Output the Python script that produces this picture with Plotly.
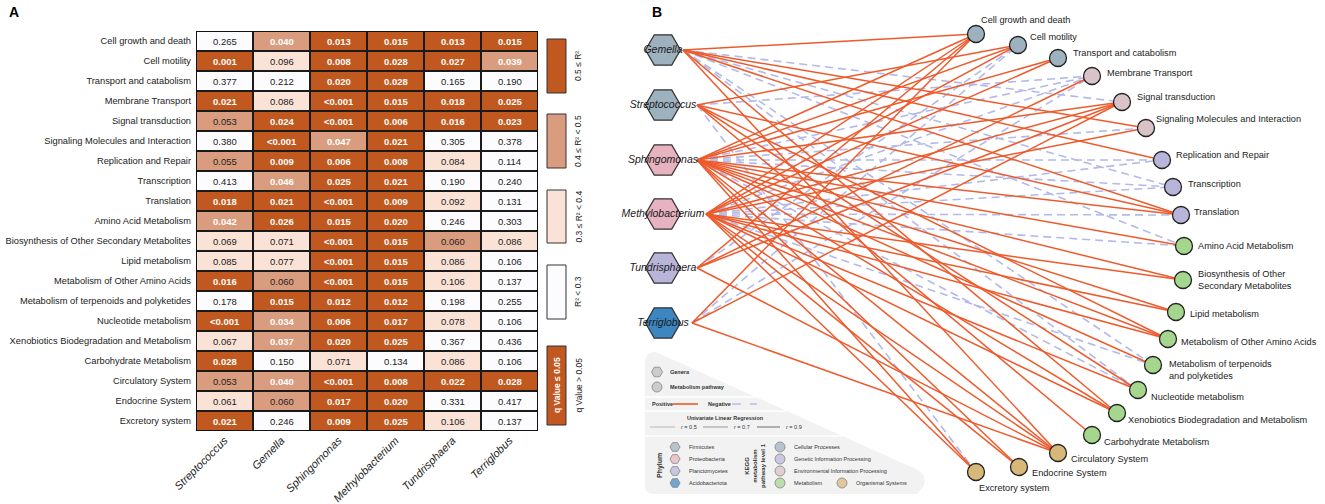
import plotly.graph_objects as go

W, H = 1325, 504

# ---------------- DATA ----------------
pathways = ["Cell growth and death", "Cell motility", "Transport and catabolism",
            "Membrane Transport", "Signal transduction", "Signaling Molecules and Interaction",
            "Replication and Repair", "Transcription", "Translation", "Amino Acid Metabolism",
            "Biosynthesis of Other Secondary Metabolites", "Lipid metabolism",
            "Metabolism of Other Amino Acids", "Metabolism of terpenoids and polyketides",
            "Nucleotide metabolism", "Xenobiotics Biodegradation and Metabolism",
            "Carbohydrate Metabolism", "Circulatory System", "Endocrine System", "Excretory system"]

heat_genera = ["Streptococcus", "Gemella", "Sphingomonas", "Methylobacterium",
               "Tundrisphaera", "Terriglobus"]

q_labels = [
    ["0.265", "0.040", "0.013", "0.015", "0.013", "0.015"],
    ["0.001", "0.096", "0.008", "0.028", "0.027", "0.039"],
    ["0.377", "0.212", "0.020", "0.028", "0.165", "0.190"],
    ["0.021", "0.086", "<0.001", "0.015", "0.018", "0.025"],
    ["0.053", "0.024", "<0.001", "0.006", "0.016", "0.023"],
    ["0.380", "<0.001", "0.047", "0.021", "0.305", "0.378"],
    ["0.055", "0.009", "0.006", "0.008", "0.084", "0.114"],
    ["0.413", "0.046", "0.025", "0.021", "0.190", "0.240"],
    ["0.018", "0.021", "<0.001", "0.009", "0.092", "0.131"],
    ["0.042", "0.026", "0.015", "0.020", "0.246", "0.303"],
    ["0.069", "0.071", "<0.001", "0.015", "0.060", "0.086"],
    ["0.085", "0.077", "<0.001", "0.015", "0.086", "0.106"],
    ["0.016", "0.060", "<0.001", "0.015", "0.106", "0.137"],
    ["0.178", "0.015", "0.012", "0.012", "0.198", "0.255"],
    ["<0.001", "0.034", "0.006", "0.017", "0.078", "0.106"],
    ["0.067", "0.037", "0.020", "0.025", "0.367", "0.436"],
    ["0.028", "0.150", "0.071", "0.134", "0.086", "0.106"],
    ["0.053", "0.040", "<0.001", "0.008", "0.022", "0.028"],
    ["0.061", "0.060", "0.017", "0.020", "0.331", "0.417"],
    ["0.021", "0.246", "0.009", "0.025", "0.106", "0.137"],
]

# R2 class: 0 = R2<0.3, 1 = 0.3-0.4, 2 = 0.4-0.5, 3 = >=0.5
r2_class = [
    [0, 2, 3, 3, 3, 3],
    [3, 1, 3, 3, 3, 2],
    [0, 0, 3, 3, 0, 0],
    [3, 1, 3, 3, 3, 3],
    [2, 3, 3, 3, 3, 3],
    [0, 3, 2, 3, 0, 0],
    [2, 3, 3, 3, 1, 0],
    [0, 2, 3, 3, 0, 0],
    [3, 3, 3, 3, 1, 0],
    [2, 3, 3, 3, 0, 0],
    [1, 1, 3, 3, 2, 1],
    [1, 1, 3, 3, 1, 0],
    [3, 2, 3, 3, 1, 0],
    [0, 3, 3, 3, 0, 0],
    [3, 2, 3, 3, 1, 0],
    [1, 2, 3, 3, 0, 0],
    [3, 0, 1, 0, 1, 0],
    [2, 2, 3, 3, 3, 3],
    [1, 2, 3, 3, 0, 0],
    [3, 0, 3, 3, 1, 0],
]
r2_legend = ["R² < 0.3", "0.3 ≤ R² < 0.4", "0.4 ≤ R² < 0.5", "0.5 ≤ R²"]

# network
net_genera = ["Gemella", "Streptococcus", "Sphingomonas", "Methylobacterium",
              "Tundrisphaera", "Terriglobus"]
net_phylum = ["Firmicutes", "Firmicutes", "Proteobacteria", "Proteobacteria",
              "Planctomycetes", "Acidobacteriota"]
pathway_level1 = (["Cellular Processes"] * 3 + ["Environmental Information Processing"] * 3 +
                  ["Genetic Information Processing"] * 3 + ["Metabolism"] * 8 +
                  ["Organismal Systems"] * 3)
# edge sign per genus over pathways (1 positive, -1 negative, 0 none)
edge_sign = {
    "Gemella":          [1, 0, 0, 0, -1, 1, 1, -1, 1, -1, 0, 0, 0, -1, -1, 1, 0, 1, 0, 0],
    "Streptococcus":    [0, 1, 0, -1, 0, 0, 0, 0, 1, 0, 0, 0, 1, 0, 1, 0, 1, 0, 0, -1],
    "Sphingomonas":     [1, 1, 1, -1, 1, -1, -1, -1, 1, 1, 1, 1, 1, 1, -1, 1, 0, 1, 1, 1],
    "Methylobacterium": [1, 1, 1, -1, 1, 1, -1, -1, -1, -1, 1, 1, 1, -1, 1, 1, 0, 1, 1, 1],
    "Tundrisphaera":    [1, -1, 0, 1, 1, 0, 0, 0, 0, 0, 0, 0, 0, 0, 0, 0, 0, 1, 0, 0],
    "Terriglobus":      [1, -1, 0, -1, 1, 0, 0, 0, 0, 0, 0, 0, 0, 0, 0, 0, 0, 1, 0, 0],
}

# ---------------- STYLE / LAYOUT ----------------
heat_cols = ["#FCFCFE", "#FAE2D6", "#DA9C7E", "#C0581F"]
phylum_col = {"Firmicutes": "#9EB1BF", "Proteobacteria": "#E7B3C0",
              "Planctomycetes": "#B9B4DA", "Acidobacteriota": "#3D86C0"}
level1_col = {"Cellular Processes": "#9EB1BF", "Genetic Information Processing": "#B8B5DA",
              "Environmental Information Processing": "#D9C3C9", "Metabolism": "#A5D68D",
              "Organismal Systems": "#D8B878"}
POS_COL = "#EE5A2C"
NEG_COL = "#B3BAE8"
FONT = "Liberation Sans, Arial, sans-serif"

# genus node layout (pixel coords in panel B)
genus_xy = [(663, 50), (663, 105), (663, 160), (663, 214), (663, 268), (663, 323)]
genus_edge_x = [683, 697, 697, 706, 697, 692]
# pathway node layout
path_xy = [(976, 34), (1018, 45), (1058, 58), (1092, 76), (1122, 102), (1146, 128),
           (1162, 160), (1173, 187), (1181, 215), (1184, 246), (1183, 280), (1176, 312),
           (1168, 339), (1153, 365), (1138, 390), (1117, 413), (1092, 435), (1058, 453),
           (1019, 467), (976, 472)]
path_label_xy = [(979, 20), (1028, 37), (1071, 53), (1105, 73), (1135, 97), (1154, 119),
                 (1174, 155), (1186, 184), (1192, 212), (1196, 246), (1196, 280), (1188, 314),
                 (1179, 342), (1167, 370), (1149, 397), (1126, 420), (1102, 442), (1069, 459),
                 (1030, 473), (977, 488)]
path_label_text = {"Biosynthesis of Other Secondary Metabolites":
                   "Biosynthesis of Other<br>Secondary Metabolites",
                   "Metabolism of terpenoids and polyketides":
                   "Metabolism of terpenoids<br>and polyketides"}


def px(x):
    return x / W


def py(y):
    return 1 - y / H


fig = go.Figure()

# ---------------- PANEL A: heatmap ----------------
nrow, ncol = len(pathways), len(heat_genera)
cs = []
for i, c in enumerate(heat_cols):
    cs.append([i / 4, c])
    cs.append([(i + 1) / 4, c])

fig.add_trace(go.Heatmap(
    z=r2_class, x=list(range(ncol)), y=list(range(nrow)),
    colorscale=cs, zmin=-0.5, zmax=3.5, showscale=False,
    xgap=2, ygap=2, hoverinfo="skip", xaxis="x", yaxis="y"))

annotations = []


def is_sig(s):
    return s.startswith("<") or float(s) <= 0.05


for r in range(nrow):
    for c in range(ncol):
        s = q_labels[r][c]
        sig = is_sig(s)
        annotations.append(dict(
            x=c, y=r, xref="x", yref="y", showarrow=False,
            text=("<b>%s</b>" % s.replace("<", "&lt;")) if sig else s.replace("<", "&lt;"),
            font=dict(family=FONT, size=9.5, color="white" if sig else "#222222")))

shapes = []
# black grid background and outer frame
shapes.append(dict(type="rect", xref="x", yref="y", x0=-0.5, x1=ncol - 0.5,
                   y0=-0.5, y1=nrow - 0.5, fillcolor="#1a1a1a", line=dict(width=0),
                   layer="below"))
shapes.append(dict(type="rect", xref="x", yref="y", x0=-0.5, x1=ncol - 0.5,
                   y0=-0.5, y1=nrow - 0.5, fillcolor="rgba(0,0,0,0)",
                   line=dict(color="#111111", width=2)))


def pann(x, y, text, size, color, angle=0):
    return dict(x=px(x), y=py(y), xref="paper", yref="paper", text=text, textangle=angle,
                showarrow=False, xanchor="center", yanchor="middle",
                font=dict(family=FONT, size=size, color=color))


# R2 legend boxes
leg_boxes = [(265, 319), (190, 243), (114, 168), (39, 93)]
for k, (y0, y1) in enumerate(leg_boxes):
    shapes.append(dict(type="rect", xref="paper", yref="paper", x0=px(547), x1=px(566),
                       y0=py(y1), y1=py(y0), fillcolor=heat_cols[k],
                       line=dict(color="#333333", width=1)))
    annotations.append(pann(578, (y0 + y1) / 2, r2_legend[k], 8.5, "#222222", -90))
shapes.append(dict(type="rect", xref="paper", yref="paper", x0=px(547), x1=px(566),
                   y0=py(425), y1=py(346), fillcolor=heat_cols[3],
                   line=dict(color="#333333", width=1)))
annotations.append(pann(556.5, 385.5, "<b>q Value ≤ 0.05</b>", 8.5, "white", -90))
annotations.append(pann(578, 385.5, "q Value > 0.05", 8.5, "#222222", -90))

# panel letters
annotations.append(pann(14, 12, "<b>A</b>", 14, "black"))
annotations.append(pann(657, 12, "<b>B</b>", 14, "black"))

# ---------------- PANEL B: network ----------------
# legend background
shapes.append(dict(type="path", xref="x2", yref="y2",
                   path="M 645,362 Q 645,352 656,352 L 918,470 Q 932,480 917,494 "
                        "L 654,494 Q 645,494 645,486 Z",
                   fillcolor="#F2F2F2", line=dict(width=0), layer="below"))
for yy in (397, 411, 436):
    xe = 656 + (yy - 352) * (262 / 118)
    shapes.append(dict(type="line", xref="x2", yref="y2", x0=645, x1=xe, y0=yy, y1=yy,
                       line=dict(color="white", width=1.5), layer="below"))

# edges
for sign, col, dash in ((-1, NEG_COL, "8px,5px"), (1, POS_COL, "solid")):
    xs, ys = [], []
    for gi, g in enumerate(net_genera):
        for pi, p in enumerate(pathways):
            if edge_sign[g][pi] == sign:
                xs += [genus_edge_x[gi], path_xy[pi][0], None]
                ys += [genus_xy[gi][1], path_xy[pi][1], None]
    fig.add_trace(go.Scatter(x=xs, y=ys, mode="lines", xaxis="x2", yaxis="y2",
                             line=dict(color=col, width=1.5 if sign > 0 else 1.6, dash=dash),
                             hoverinfo="skip", showlegend=False, cliponaxis=False))

# genus nodes
fig.add_trace(go.Scatter(
    x=[p[0] for p in genus_xy], y=[p[1] for p in genus_xy], mode="markers+text",
    xaxis="x2", yaxis="y2", cliponaxis=False,
    marker=dict(symbol="hexagon2", size=35, color=[phylum_col[ph] for ph in net_phylum],
                line=dict(color="#333333", width=1.2)),
    text=["<i>%s</i>" % g for g in net_genera], textposition="middle center",
    textfont=dict(family=FONT, size=10.5, color="#1a1a1a"),
    hoverinfo="skip", showlegend=False))

# pathway nodes
fig.add_trace(go.Scatter(
    x=[p[0] for p in path_xy], y=[p[1] for p in path_xy], mode="markers",
    xaxis="x2", yaxis="y2", cliponaxis=False,
    marker=dict(symbol="circle", size=17, color=[level1_col[l] for l in pathway_level1],
                line=dict(color="#222222", width=1.3)),
    hoverinfo="skip", showlegend=False))
for pi, p in enumerate(pathways):
    lx, ly = path_label_xy[pi]
    annotations.append(dict(x=lx, y=ly, xref="x2", yref="y2", xanchor="left",
                            yanchor="middle", showarrow=False, align="left",
                            text=path_label_text.get(p, p),
                            font=dict(family=FONT, size=9.2, color="#222222")))

# legend inside panel B
LF = dict(family=FONT, size=5.5, color="#333333")


def bann(x, y, text, font=LF, xanchor="left", angle=0):
    return dict(x=x, y=y, xref="x2", yref="y2", xanchor=xanchor, yanchor="middle",
                showarrow=False, text=text, font=font, textangle=angle)


leg_marker_x, leg_marker_y, leg_marker_sym, leg_marker_col, leg_marker_size = [], [], [], [], []
leg_marker_x += [657, 657]
leg_marker_y += [372, 387]
leg_marker_sym += ["hexagon2", "circle"]
leg_marker_col += ["#BDBDBD", "#BDBDBD"]
leg_marker_size += [11, 10]
annotations.append(bann(668, 372, "<b><i>Genera</i></b>"))
annotations.append(bann(668, 387, "<b>Metabolism pathway</b>"))
annotations.append(bann(650, 404, "<b>Positive</b>"))
annotations.append(bann(706, 404, "<b>Negative</b>"))
shapes.append(dict(type="line", xref="x2", yref="y2", x0=673, x1=698, y0=404, y1=404,
                   line=dict(color=POS_COL, width=1.6)))
shapes.append(dict(type="line", xref="x2", yref="y2", x0=732, x1=757, y0=404, y1=404,
                   line=dict(color=NEG_COL, width=1.6, dash="dash")))
annotations.append(bann(725, 418, "<b>Univariate Linear Regression</b>", xanchor="center"))
for (x0, x1, w, lab) in ((650, 675, 0.8, "<i>r</i> = 0.5"), (703, 728, 1.3, "<i>r</i> = 0.7"),
                         (757, 780, 1.9, "<i>r</i> = 0.9")):
    shapes.append(dict(type="line", xref="x2", yref="y2", x0=x0, x1=x1, y0=427, y1=427,
                       line=dict(color="#AAAAAA", width=w)))
    annotations.append(bann(x1 + 4, 427, lab))
annotations.append(bann(660, 466, "<b>Phylum</b>",
                        font=dict(family=FONT, size=7, color="#333333"),
                        xanchor="center", angle=-90))
annotations.append(bann(755, 466, "<b>KEGG<br>metabolism<br>pathway level 1</b>",
                        font=dict(family=FONT, size=6, color="#333333"),
                        xanchor="center", angle=-90))
leg_rows = [447, 459, 471, 483]
for k, ph in enumerate(["Firmicutes", "Proteobacteria", "Planctomycetes", "Acidobacteriota"]):
    leg_marker_x.append(675); leg_marker_y.append(leg_rows[k])
    leg_marker_sym.append("hexagon2"); leg_marker_col.append(phylum_col[ph])
    leg_marker_size.append(10)
    annotations.append(bann(687, leg_rows[k], ph))
lvl_items = [("Cellular Processes", 780, 447), ("Genetic Information Processing", 780, 459),
             ("Environmental Information Processing", 780, 471), ("Metabolism", 780, 483),
             ("Organismal Systems", 842, 483)]
for name, xx, yy in lvl_items:
    leg_marker_x.append(xx); leg_marker_y.append(yy)
    leg_marker_sym.append("circle"); leg_marker_col.append(level1_col[name])
    leg_marker_size.append(10)
    annotations.append(bann(xx + 12, yy, name))
fig.add_trace(go.Scatter(x=leg_marker_x, y=leg_marker_y, mode="markers", xaxis="x2",
                         yaxis="y2", cliponaxis=False,
                         marker=dict(symbol=leg_marker_sym, size=leg_marker_size,
                                     color=leg_marker_col,
                                     line=dict(color="#555555", width=0.8)),
                         hoverinfo="skip", showlegend=False))

# ---------------- LAYOUT ----------------
fig.update_layout(
    width=W, height=H, margin=dict(l=0, r=0, t=0, b=0, autoexpand=False),
    paper_bgcolor="white", plot_bgcolor="white", showlegend=False,
    font=dict(family=FONT, color="#222222"),
    xaxis=dict(domain=[px(196), px(538)], range=[-0.5, ncol - 0.5], automargin=False,
               tickmode="array", tickvals=list(range(ncol)),
               ticktext=["<i>%s</i>" % g for g in heat_genera], tickangle=-45,
               tickfont=dict(family=FONT, size=11, color="#222222"),
               showgrid=False, zeroline=False, ticks="", showline=False, fixedrange=True),
    yaxis=dict(domain=[py(431), py(31)], range=[nrow - 0.5, -0.5], automargin=False,
               tickmode="array", tickvals=list(range(nrow)), ticktext=pathways,
               tickfont=dict(family=FONT, size=9.3, color="#222222"),
               showgrid=False, zeroline=False, ticks="", showline=False, fixedrange=True,
               ticklabelstandoff=4),
    xaxis2=dict(domain=[px(640), 1], range=[640, W], visible=False, anchor="y2",
                fixedrange=True, automargin=False),
    yaxis2=dict(domain=[0, 1], range=[H, 0], visible=False, anchor="x2", fixedrange=True,
                automargin=False),
    shapes=shapes, annotations=annotations,
)

fig.write_html("out.html", config={"displayModeBar": False},
               post_script="document.body.style.margin='0px';"
                           "document.body.style.overflow='hidden';")
